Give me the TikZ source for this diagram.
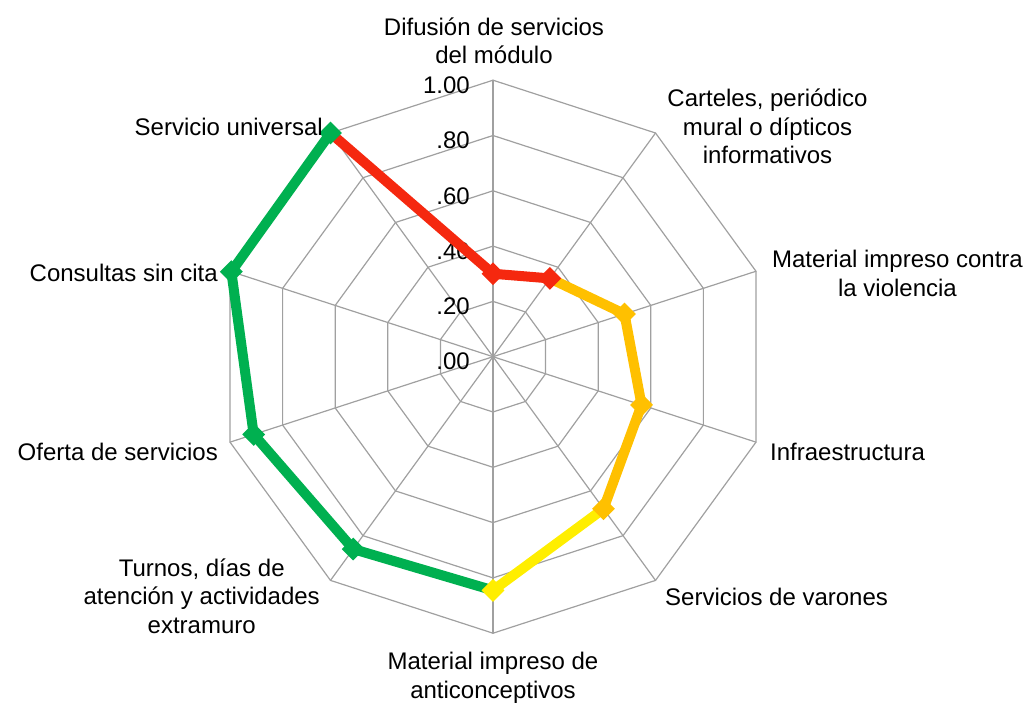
\documentclass[tikz,border=0pt]{standalone}
\usepackage{fontspec}
\setmainfont{Liberation Sans}
\usetikzlibrary{shapes.geometric}
\definecolor{rojo}{RGB}{245,40,15}
\definecolor{naranja}{RGB}{255,192,0}
\definecolor{amarillo}{RGB}{255,238,0}
\definecolor{verde}{RGB}{0,176,80}
\definecolor{rejilla}{RGB}{160,160,160}
\tikzset{
	eje/.style={draw=rejilla, line width=1.2pt},
	serie/.style={draw=#1, line width=10pt, line join=round},
	marca/.style={diamond, fill=#1, minimum size=23pt, inner sep=0pt},
	etiqueta/.style={align=center, inner sep=0pt},
}
\begin{document}
\begin{tikzpicture}[x=1pt, y=1pt, font=\fontsize{24}{28.5}\selectfont, line cap=round]
	\def\R{276.5}
	\useasboundingbox (-493,-347.3) rectangle (538,356.7);
	% rejilla
	\foreach \k in {1,...,5}
	\draw[eje] (90:{\k*\R/5}) \foreach \a in {1,...,9} {-- ({90-36*\a}:{\k*\R/5})} -- cycle;
	\foreach \a in {0,...,9}
	\draw[eje] (0,0) -- ({90-36*\a}:\R);
	\foreach \k/\t in {0/.00,1/.20,2/.40,3/.60,4/.80,5/1.00}
	\node[anchor=east, inner sep=0pt] (t\k) at (-23,{\k*\R/5-5}) {\t};
	% datos
	\foreach \v [count=\i] in {0.30,0.35,0.50,0.565,0.68,0.845,0.86,0.91,0.995,1.0}
	\coordinate (p\i) at ({90-36*(\i-1)}:{\v*\R});
	\draw[serie=rojo] (p10)--(p1)--(p2);
	\draw[serie=naranja] (p2)--(p3)--(p4)--(p5);
	\draw[serie=amarillo] (p5)--(p6);
	\draw[serie=verde] (p6)--(p7)--(p8)--(p9)--(p10);
	\foreach \i/\c in {1/rojo,2/rojo,3/naranja,4/naranja,5/naranja,6/amarillo,7/verde,8/verde,9/verde,10/verde}
	\node[marca=\c] (m\i) at (p\i) {};
	% etiquetas
	\node[etiqueta] (difusion) at (1,315.7) {Difusión de servicios\\del módulo};
	\node[etiqueta] (carteles) at (274.5,230.2) {Carteles, periódico\\mural o dípticos\\informativos};
	\node[etiqueta] (violencia) at (404.5,83.2) {Material impreso contra\\la violencia};
	\node[etiqueta, anchor=west] (infra) at (277,-95.3) {Infraestructura};
	\node[etiqueta, anchor=west] (varones) at (172,-240.3) {Servicios de varones};
	\node[etiqueta] (anticon) at (0,-321.3) {Material impreso de\\anticonceptivos};
	\node[etiqueta] (turnos) at (-291.3,-239.3) {Turnos, días de\\atención y actividades\\extramuro};
	\node[etiqueta, anchor=east] (oferta) at (-275,-95.3) {Oferta de servicios};
	\node[etiqueta, anchor=east] (consultas) at (-275,83.7) {Consultas sin cita};
	\node[etiqueta, anchor=east] (universal) at (-170,229.7) {Servicio universal};
\end{tikzpicture}
\end{document}
